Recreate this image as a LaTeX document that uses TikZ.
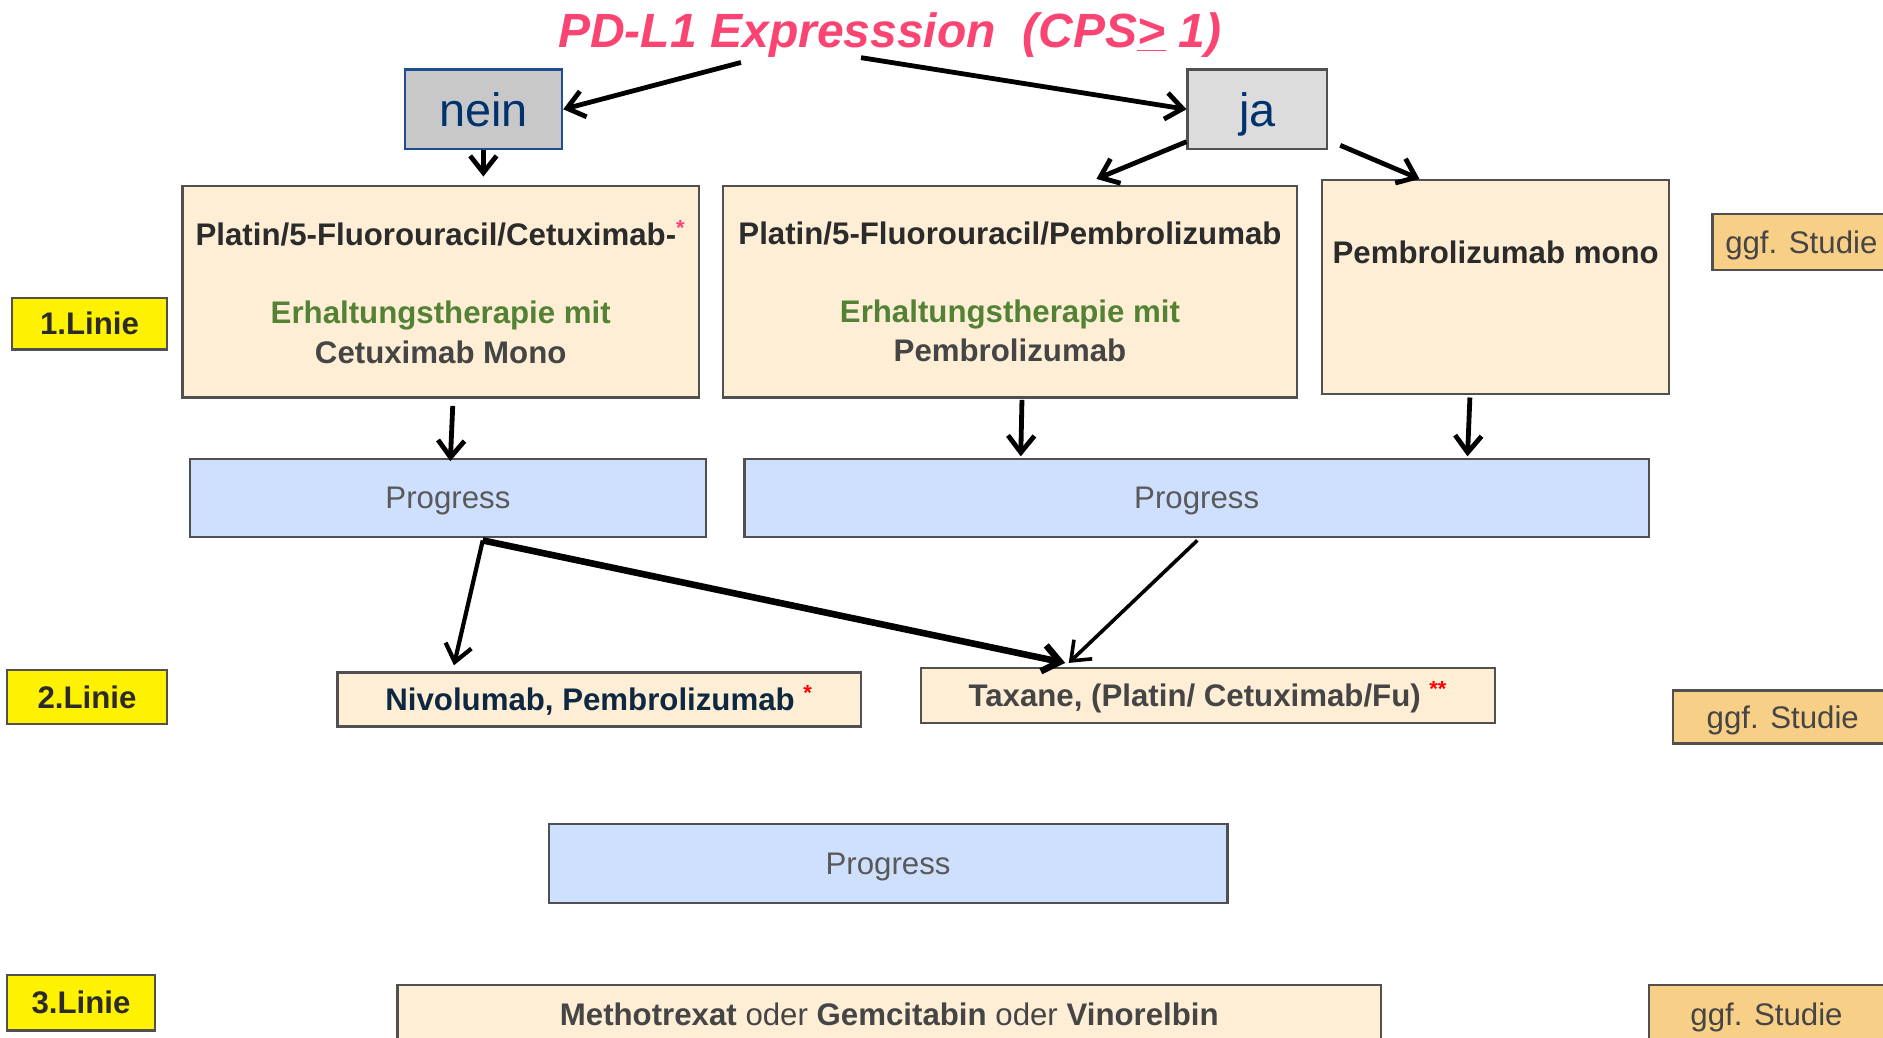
\documentclass[tikz,border=0pt]{standalone}
\usepackage{fontspec}
\setmainfont{Liberation Sans}
\usetikzlibrary{arrows.meta}
\definecolor{titel}{HTML}{FA4572}
\definecolor{rand}{HTML}{505050}
\definecolor{beige}{HTML}{FDEED5}
\definecolor{blau}{HTML}{CFE0FF}
\definecolor{studiefarbe}{HTML}{F8CF86}
\definecolor{gruen}{HTML}{548235}
\definecolor{dunkel}{HTML}{2B2B2B}
\definecolor{grautext}{HTML}{454545}
\definecolor{progtext}{HTML}{595959}
\definecolor{navy}{HTML}{0E2841}
\definecolor{neinblau}{HTML}{1F4E8F}
\definecolor{neintext}{HTML}{00336E}
\definecolor{neingrau}{HTML}{C8C8C8}
\definecolor{jagrau}{HTML}{DCDCDC}
\newcommand{\stern}[2]{\textsuperscript{\textcolor{#1}{#2}}}

\begin{document}
\begin{tikzpicture}[x=0.5pt,y=-0.5pt,
  feld/.style={draw=rand, line width=1pt, inner sep=1pt, align=center},
  eine/.style={text height=9.3pt, text depth=0pt},
  tbox/.style={feld, fill=beige, text=dunkel, font=\fontsize{13}{16.5}\selectfont\bfseries},
  prog/.style={feld, eine, fill=blau, text=progtext, font=\fontsize{13}{16}\selectfont, minimum height=32.5pt},
  linie/.style={feld, eine, fill=yellow, text=dunkel, font=\fontsize{13}{16}\selectfont\bfseries},
  studie/.style={feld, eine, fill=studiefarbe, text=grautext, font=\fontsize{13}{16}\selectfont},
  pfeil/.style={-{Straight Barb[length=7pt,width=11pt]}, line width=2pt}]
\useasboundingbox (0,0) rectangle (1568,864);

\node[font=\fontsize{20}{24}\selectfont\bfseries\itshape, text=titel] (titel) at (741,29)
  {PD-L1 Expresssion\ \ (CPS\underline{>} 1)};
\node[feld, draw=neinblau, fill=neingrau, text=neintext, font=\fontsize{19.5}{22}\selectfont,
  minimum width=65.5pt, minimum height=33pt] (nein) at (402.5,91) {nein};
\node[feld, fill=jagrau, text=neintext, font=\fontsize{19.5}{22}\selectfont, text depth=0pt,
  minimum width=58pt, minimum height=33pt] (ja) at (1047,91) {ja};

% 1. Linie
\node[tbox, minimum width=215pt, minimum height=88pt] (cetux) at (367,243)
  {Platin/5-Fluorouracil/Cetuximab-\stern{titel}{*}\\[16pt]
   \textcolor{gruen}{Erhaltungstherapie mit}\\ \textcolor{grautext}{Cetuximab Mono}};
\node[tbox, minimum width=239pt, minimum height=88pt] (pembro) at (841,243)
  {Platin/5-Fluorouracil/Pembrolizumab\\[16pt]
   \textcolor{gruen}{Erhaltungstherapie mit}\\ \textcolor{grautext}{Pembrolizumab}};
\node[tbox, minimum width=144.5pt, inner sep=0pt, text height=34.5pt, text depth=54.5pt] (mono)
  at (1245.5,239) {Pembrolizumab mono};
\node[studie, minimum width=74pt, minimum height=23.5pt] (studie1) at (1500,201.5) {ggf. Studie};
\node[linie, minimum width=64.5pt, minimum height=21.5pt] (linie1) at (74.5,269.5) {1.Linie};

\node[prog, minimum width=215pt] (prog1) at (373,414.5) {Progress};
\node[prog, minimum width=376.5pt] (prog2) at (996.5,414.5) {Progress};

% 2. Linie
\node[linie, minimum width=66.5pt, minimum height=22.5pt] (linie2) at (72.5,580.5) {2.Linie};
\node[tbox, eine, text=navy, minimum width=218pt, minimum height=22.5pt] (nivo) at (499,582.5)
  {Nivolumab, Pembrolizumab \stern{red}{*}};
\node[tbox, eine, text=grautext, minimum width=239pt, minimum height=23pt] (taxane) at (1006,579)
  {Taxane, (Platin/ Cetuximab/Fu) \stern{red}{**}};
\node[studie, minimum width=91.5pt, minimum height=22pt] (studie2) at (1484.5,597) {ggf. Studie};

\node[prog, minimum width=282.5pt, minimum height=33pt] (prog3) at (739.5,719) {Progress};

% 3. Linie
\node[linie, minimum width=61.5pt, minimum height=23pt] (linie3) at (67.5,835) {3.Linie};
\node[tbox, eine, text=grautext, font=\fontsize{13}{16}\selectfont, minimum width=409.5pt, minimum height=25pt]
  (metho) at (740.5,845) {\textbf{Methotrexat} oder \textbf{Gemcitabin} oder \textbf{Vinorelbin}};
\node[studie, minimum width=98pt, minimum height=25pt] (studie3) at (1471,845) {ggf. Studie};

\coordinate (t1) at (617,52);
\coordinate (t2) at (717,48);
\coordinate (p1) at ([xshift=14.5pt,yshift=-1pt]prog1.south);
\draw[pfeil] (t1) -- (nein.east);
\draw[pfeil] (t2) -- (ja.west);
\draw[pfeil, shorten >=3.5pt] (nein.south) -- (nein.south |- cetux.north);
\draw[pfeil] ([yshift=3.5pt]ja.south west) -- ([xshift=36pt,yshift=2.5pt]pembro.north);
\draw[pfeil] ([xshift=5pt,yshift=2pt]ja.south east) -- ([xshift=41pt]mono.north west);
\draw[pfeil] ([xshift=5pt,yshift=-3pt]cetux.south) -- ([xshift=1pt,yshift=-1.5pt]prog1.north);
\draw[pfeil] ([xshift=5pt,yshift=-0.5pt]pembro.south) -- ([xshift=4.5pt,yshift=0.5pt]pembro.south |- prog2.north);
\draw[pfeil] ([xshift=-10.75pt,yshift=-1pt]mono.south) -- ([xshift=-11.75pt,yshift=0.5pt]mono.south |- prog2.north);
\draw[pfeil, line width=1.75pt] (p1) -- ([xshift=-60.5pt,yshift=2.5pt]nivo.north);
\draw[pfeil, line width=2.75pt] (p1) -- ([xshift=-59.5pt,yshift=1.5pt]taxane.north);
\draw[pfeil, line width=1.5pt] ([xshift=0.25pt,yshift=-1pt]prog2.south) -- ([xshift=-58pt,yshift=1.5pt]taxane.north);
\end{tikzpicture}
\end{document}
